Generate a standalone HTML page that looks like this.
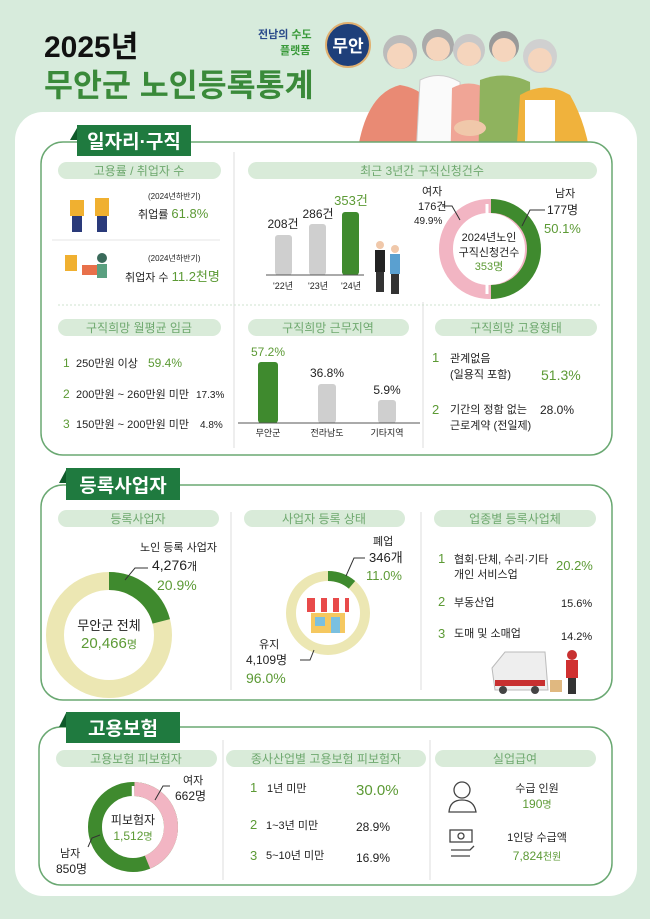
<!DOCTYPE html>
<html><head><meta charset="utf-8"><style>
html,body{margin:0;padding:0;background:#d7ebdc;}
svg{display:block;font-family:"Liberation Sans","Noto Sans CJK KR",sans-serif;}
.pill{fill:#d9ebd9}
.pt{fill:#6ea86e;font-size:12px;text-anchor:middle}
.b{fill:#222;font-size:11px}
.g{fill:#5c9a35}
.tab{fill:#1f7a3f}
</style></head><body>
<svg width="650" height="919" viewBox="0 0 650 919" xmlns="http://www.w3.org/2000/svg">
<rect width="650" height="919" fill="#d7ebdc"/>
<rect x="15" y="112" width="622" height="784" rx="28" fill="#fff"/>
<text x="44" y="57" font-size="30" font-weight="bold" fill="#111">2025년</text>
<text x="44" y="96" font-size="31.5" font-weight="bold" fill="#3a8a3a">무안군 노인등록통계</text>
<text x="258" y="38" font-size="11" font-weight="bold" fill="#2a4a8a">전남의 <tspan fill="#3a9a3a">수도</tspan></text>
<text x="280" y="54" font-size="11" font-weight="bold" fill="#3a9a3a">플랫폼</text>
<circle cx="348" cy="45" r="22" fill="#1e3f7a" stroke="#e0b070" stroke-width="2"/>
<text x="348" y="52" font-size="17" font-weight="bold" fill="#fff" text-anchor="middle">무안</text>
<g>
<path d="M355 175 Q360 95 400 85 Q430 90 440 120 L440 175Z" fill="#e98a74"/>
<path d="M415 175 L420 80 Q440 70 460 82 L465 175Z" fill="#fafafa" stroke="#ccc"/>
<path d="M450 175 L452 88 Q470 78 490 90 L492 175Z" fill="#f0a596"/>
<path d="M478 175 L480 80 Q505 70 530 82 L532 175Z" fill="#8fb35e"/>
<path d="M515 175 L520 95 Q545 80 570 95 Q590 130 592 175Z" fill="#f0b23c"/>
<rect x="525" y="100" width="30" height="75" fill="#fff"/>
<circle cx="400" cy="52" r="17" fill="#bbb"/><circle cx="400" cy="56" r="13" fill="#f5d5bd"/>
<circle cx="438" cy="45" r="16" fill="#aaa"/><circle cx="438" cy="49" r="12" fill="#f5d5bd"/>
<circle cx="469" cy="50" r="16" fill="#c8c8c8"/><circle cx="469" cy="54" r="12" fill="#f5d5bd"/>
<circle cx="504" cy="46" r="15" fill="#999"/><circle cx="504" cy="50" r="12" fill="#f5d5bd"/>
<circle cx="540" cy="56" r="17" fill="#d0d0d0"/><circle cx="540" cy="60" r="12" fill="#f5d5bd"/>
<ellipse cx="470" cy="128" rx="16" ry="8" fill="#f0c8aa"/>
</g>

<rect x="41" y="142" width="571" height="313" rx="22" fill="#fff" stroke="#6aa872" stroke-width="1.5"/>
<polygon points="70,140 77,128 77,140" fill="#0f5a2a"/>
<rect x="77" y="125" width="114" height="31" class="tab"/>
<text x="134" y="148" font-size="19" font-weight="bold" fill="#fff" text-anchor="middle">일자리·구직</text>
<line x1="234" y1="152" x2="234" y2="448" stroke="#ddd"/>
<line x1="423" y1="302" x2="423" y2="448" stroke="#ddd"/>
<line x1="58" y1="305" x2="600" y2="305" stroke="#cfe3cf" stroke-dasharray="2,2"/>
<rect x="58" y="162" width="163" height="17" rx="8.5" class="pill"/><text x="139" y="175" class="pt">고용률 / 취업자 수</text>
<rect x="248" y="162" width="349" height="17" rx="8.5" class="pill"/><text x="422" y="175" class="pt">최근 3년간 구직신청건수</text>
<g fill="#f0b030"><rect x="70" y="200" width="14" height="16"/><rect x="95" y="198" width="14" height="18"/></g>
<g fill="#2a3a7a"><rect x="72" y="216" width="10" height="16"/><rect x="97" y="216" width="10" height="16"/></g>
<text x="148" y="199" font-size="8" fill="#222">(2024년하반기)</text>
<text x="138" y="218" class="b" font-size="12">취업률 <tspan class="g" font-size="13">61.8%</tspan></text>
<line x1="52" y1="240" x2="220" y2="240" stroke="#e4e4e4"/>
<g><rect x="65" y="255" width="12" height="16" fill="#f0b030"/><rect x="82" y="265" width="20" height="10" fill="#e8704a"/><circle cx="102" cy="258" r="5" fill="#3a6a5a"/><rect x="97" y="264" width="10" height="14" fill="#5aa080"/></g>
<text x="148" y="261" font-size="8" fill="#222">(2024년하반기)</text>
<text x="125" y="281" class="b" font-size="12">취업자 수 <tspan class="g" font-size="13">11.2천명</tspan></text>
<rect x="275" y="235" width="17" height="40" rx="3" fill="#cfcfcf"/>
<rect x="309" y="224" width="17" height="51" rx="3" fill="#cfcfcf"/>
<rect x="342" y="212" width="17" height="63" rx="3" fill="#3f8a2e"/>
<line x1="266" y1="275" x2="364" y2="275" stroke="#555"/>
<text x="283" y="228" font-size="12" text-anchor="middle" fill="#222">208건</text>
<text x="318" y="218" font-size="12" text-anchor="middle" fill="#222">286건</text>
<text x="351" y="205" font-size="13" text-anchor="middle" class="g">353건</text>
<text x="283" y="289" font-size="9" text-anchor="middle" fill="#222">'22년</text>
<text x="318" y="289" font-size="9" text-anchor="middle" fill="#222">'23년</text>
<text x="351" y="289" font-size="9" text-anchor="middle" fill="#222">'24년</text>
<g><rect x="375" y="250" width="10" height="22" fill="#222"/><circle cx="380" cy="245" r="4" fill="#f0c8aa"/><rect x="376" y="272" width="8" height="20" fill="#333"/>
<rect x="390" y="254" width="10" height="20" fill="#5aa0d0"/><circle cx="395" cy="249" r="4" fill="#f0c8aa"/><rect x="391" y="274" width="8" height="20" fill="#333"/></g>
<circle cx="489" cy="249" r="43" fill="none" stroke="#f2b5c3" stroke-width="14"/>
<path d="M491 206 A43 43 0 0 1 491 292" fill="none" stroke="#3f8a2e" stroke-width="14"/>
<line x1="487" y1="204" x2="487" y2="294" stroke="#fff" stroke-width="3"/>
<text x="489" y="241" font-size="11" text-anchor="middle" fill="#222">2024년노인</text>
<text x="489" y="256" font-size="11" text-anchor="middle" fill="#222">구직신청건수</text>
<text x="489" y="270" font-size="11" text-anchor="middle" class="g">353명</text>
<text x="422" y="195" font-size="11" fill="#222">여자</text>
<text x="418" y="210" font-size="11" fill="#222">176건</text>
<text x="414" y="224" font-size="10" fill="#222">49.9%</text>
<polyline points="442,206 452,206 460,220" fill="none" stroke="#333"/>
<text x="555" y="197" font-size="11" fill="#222">남자</text>
<text x="547" y="214" font-size="12" fill="#222">177명</text>
<text x="544" y="233" font-size="13" class="g">50.1%</text>
<polyline points="545,210 530,210 522,226" fill="none" stroke="#333"/>
<rect x="58" y="319" width="163" height="17" rx="8.5" class="pill"/><text x="139" y="332" class="pt">구직희망 월평균 임금</text>
<rect x="248" y="319" width="161" height="17" rx="8.5" class="pill"/><text x="328" y="332" class="pt">구직희망 근무지역</text>
<rect x="435" y="319" width="162" height="17" rx="8.5" class="pill"/><text x="516" y="332" class="pt">구직희망 고용형태</text>
<text x="63" y="367" font-size="12" class="g">1</text><text x="76" y="367" class="b">250만원 이상</text><text x="148" y="367" font-size="12" class="g">59.4%</text>
<text x="63" y="398" font-size="12" class="g">2</text><text x="76" y="398" class="b">200만원 ~ 260만원 미만</text><text x="196" y="398" font-size="10" fill="#222">17.3%</text>
<text x="63" y="428" font-size="12" class="g">3</text><text x="76" y="428" class="b">150만원 ~ 200만원 미만</text><text x="200" y="428" font-size="10" fill="#222">4.8%</text>
<rect x="258" y="362" width="20" height="61" rx="3" fill="#3f8a2e"/>
<rect x="318" y="384" width="18" height="39" rx="3" fill="#cfcfcf"/>
<rect x="378" y="400" width="18" height="23" rx="3" fill="#cfcfcf"/>
<line x1="238" y1="423" x2="420" y2="423" stroke="#555"/>
<text x="268" y="356" font-size="12" text-anchor="middle" class="g">57.2%</text>
<text x="327" y="377" font-size="12" text-anchor="middle" fill="#222">36.8%</text>
<text x="387" y="394" font-size="12" text-anchor="middle" fill="#222">5.9%</text>
<text x="268" y="436" font-size="9" text-anchor="middle" fill="#222">무안군</text>
<text x="327" y="436" font-size="9" text-anchor="middle" fill="#222">전라남도</text>
<text x="387" y="436" font-size="9" text-anchor="middle" fill="#222">기타지역</text>
<text x="432" y="362" font-size="13" class="g">1</text><text x="450" y="362" class="b">관계없음</text><text x="450" y="378" class="b">(일용직 포함)</text>
<text x="541" y="380" font-size="14" class="g">51.3%</text>
<text x="432" y="414" font-size="13" class="g">2</text><text x="450" y="413" class="b">기간의 정함 없는</text><text x="450" y="429" class="b">근로계약 (전일제)</text>
<text x="540" y="414" font-size="12" fill="#222">28.0%</text>

<rect x="41" y="485" width="571" height="215" rx="22" fill="#fff" stroke="#6aa872" stroke-width="1.5"/>
<polygon points="59,483 66,470 66,483" fill="#0f5a2a"/>
<rect x="66" y="468" width="114" height="32" class="tab"/>
<text x="123" y="492" font-size="19" font-weight="bold" fill="#fff" text-anchor="middle">등록사업자</text>
<line x1="231" y1="512" x2="231" y2="690" stroke="#ddd"/>
<line x1="421" y1="512" x2="421" y2="690" stroke="#ddd"/>
<rect x="58" y="510" width="161" height="17" rx="8.5" class="pill"/><text x="138" y="523" class="pt">등록사업자</text>
<rect x="244" y="510" width="161" height="17" rx="8.5" class="pill"/><text x="324" y="523" class="pt">사업자 등록 상태</text>
<rect x="434" y="510" width="162" height="17" rx="8.5" class="pill"/><text x="515" y="523" class="pt">업종별 등록사업체</text>
<circle cx="109" cy="635" r="54" fill="none" stroke="#ece7b3" stroke-width="18"/>
<circle cx="109" cy="635" r="54" fill="none" stroke="#3f8a2e" stroke-width="18" stroke-dasharray="71 400" transform="rotate(-90 109 635)"/>
<text x="109" y="630" font-size="13" text-anchor="middle" fill="#222">무안군 전체</text>
<text x="109" y="648" font-size="15" text-anchor="middle" class="g">20,466<tspan font-size="11">명</tspan></text>
<text x="140" y="551" font-size="11" fill="#222">노인 등록 사업자</text>
<text x="152" y="570" font-size="14" fill="#222">4,276<tspan font-size="11">개</tspan></text>
<text x="157" y="590" font-size="14" class="g">20.9%</text>
<polyline points="148,568 135,568 125,580" fill="none" stroke="#333"/>
<circle cx="328" cy="613" r="37" fill="none" stroke="#ece7b3" stroke-width="10"/>
<circle cx="328" cy="613" r="37" fill="none" stroke="#3f8a2e" stroke-width="10" stroke-dasharray="26 300" transform="rotate(-90 328 613)"/>
<g><rect x="311" y="613" width="34" height="20" fill="#f5c860"/><rect x="307" y="598" width="42" height="14" fill="#e84a4a"/><rect x="315" y="598" width="6" height="14" fill="#fff"/><rect x="327" y="598" width="6" height="14" fill="#fff"/><rect x="339" y="598" width="6" height="14" fill="#fff"/><rect x="315" y="617" width="10" height="9" fill="#7ac0e0"/><rect x="331" y="617" width="9" height="16" fill="#7ac0e0"/></g>
<text x="373" y="545" font-size="11" fill="#222">폐업</text>
<text x="369" y="562" font-size="13" fill="#222">346개</text>
<text x="366" y="580" font-size="13" class="g">11.0%</text>
<polyline points="365,558 354,558 346,576" fill="none" stroke="#333"/>
<text x="259" y="648" font-size="11" fill="#222">유지</text>
<text x="246" y="664" font-size="12" fill="#222">4,109명</text>
<text x="246" y="683" font-size="14" class="g">96.0%</text>
<polyline points="300,660 310,660 314,650" fill="none" stroke="#333"/>
<text x="438" y="563" font-size="13" class="g">1</text><text x="454" y="563" class="b">협회·단체, 수리·기타</text><text x="454" y="578" class="b">개인 서비스업</text>
<text x="556" y="570" font-size="13" class="g">20.2%</text>
<text x="438" y="606" font-size="13" class="g">2</text><text x="454" y="606" class="b">부동산업</text><text x="561" y="607" font-size="11" fill="#222">15.6%</text>
<text x="438" y="638" font-size="13" class="g">3</text><text x="454" y="637" class="b">도매 및 소매업</text><text x="561" y="640" font-size="11" fill="#222">14.2%</text>
<g><path d="M492 668 L505 652 L545 652 L548 690 L495 690Z" fill="#eee" stroke="#bbb"/><rect x="495" y="680" width="50" height="6" fill="#c83030"/><circle cx="503" cy="690" r="4" fill="#444"/><circle cx="535" cy="690" r="4" fill="#444"/><rect x="550" y="680" width="12" height="12" fill="#e0b880"/><circle cx="572" cy="655" r="5" fill="#c83030"/><rect x="566" y="660" width="12" height="18" fill="#d03030"/><rect x="568" y="678" width="8" height="16" fill="#333"/></g>

<rect x="39" y="727" width="573" height="158" rx="22" fill="#fff" stroke="#6aa872" stroke-width="1.5"/>
<polygon points="59,727 66,713 66,727" fill="#0f5a2a"/>
<rect x="66" y="712" width="114" height="31" class="tab"/>
<text x="123" y="735" font-size="19" font-weight="bold" fill="#fff" text-anchor="middle">고용보험</text>
<line x1="223" y1="740" x2="223" y2="880" stroke="#ddd"/>
<line x1="430" y1="740" x2="430" y2="880" stroke="#ddd"/>
<rect x="56" y="750" width="161" height="17" rx="8.5" class="pill"/><text x="136" y="763" class="pt">고용보험 피보험자</text>
<rect x="226" y="750" width="200" height="17" rx="8.5" class="pill"/><text x="326" y="763" class="pt">종사산업별 고용보험 피보험자</text>
<rect x="435" y="750" width="161" height="17" rx="8.5" class="pill"/><text x="515" y="763" class="pt">실업급여</text>
<circle cx="133" cy="827" r="38" fill="none" stroke="#3f8a2e" stroke-width="14"/>
<circle cx="133" cy="827" r="38" fill="none" stroke="#f2b5c3" stroke-width="14" stroke-dasharray="103 300" transform="rotate(-88 133 827)"/>
<line x1="133" y1="786" x2="133" y2="796" stroke="#fff" stroke-width="2.5"/>
<text x="133" y="824" font-size="12" text-anchor="middle" fill="#222">피보험자</text>
<text x="133" y="840" font-size="12" text-anchor="middle" class="g">1,512<tspan font-size="10">명</tspan></text>
<text x="183" y="784" font-size="11" fill="#222">여자</text>
<text x="175" y="800" font-size="12" fill="#222">662명</text>
<polyline points="170,786 163,786 155,800" fill="none" stroke="#333"/>
<text x="60" y="857" font-size="11" fill="#222">남자</text>
<text x="56" y="873" font-size="12" fill="#222">850명</text>
<polyline points="88,847 92,838 100,835" fill="none" stroke="#333"/>
<text x="250" y="792" font-size="13" class="g">1</text><text x="267" y="792" class="b">1년 미만</text><text x="356" y="795" font-size="15" class="g">30.0%</text>
<text x="250" y="829" font-size="13" class="g">2</text><text x="266" y="829" class="b">1~3년 미만</text><text x="356" y="831" font-size="12" fill="#222">28.9%</text>
<text x="250" y="860" font-size="13" class="g">3</text><text x="266" y="859" class="b">5~10년 미만</text><text x="356" y="862" font-size="12" fill="#222">16.9%</text>
<g fill="none" stroke="#444" stroke-width="1.3"><circle cx="462" cy="790" r="8"/><path d="M449 812 Q450 800 462 800 Q474 800 476 812Z"/>
<rect x="450" y="830" width="22" height="12"/><circle cx="461" cy="836" r="3"/><path d="M451 850 L470 850 L474 846 M451 856 L470 856"/></g>
<text x="537" y="792" font-size="11" text-anchor="middle" fill="#222">수급 인원</text>
<text x="537" y="808" font-size="12" text-anchor="middle" class="g">190<tspan font-size="10">명</tspan></text>
<text x="537" y="841" font-size="11" text-anchor="middle" fill="#222">1인당 수급액</text>
<text x="537" y="860" font-size="12" text-anchor="middle" class="g">7,824<tspan font-size="10">천원</tspan></text>
</svg>
</body></html>
